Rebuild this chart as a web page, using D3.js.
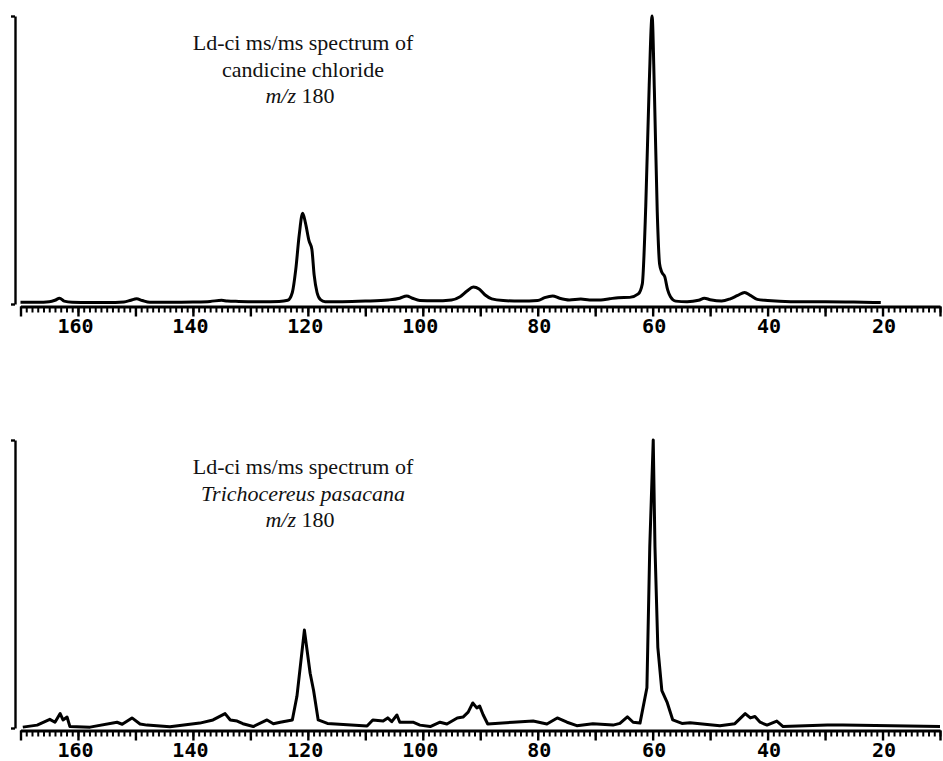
<!DOCTYPE html>
<html>
<head>
<meta charset="utf-8">
<script src="https://cdn.jsdelivr.net/npm/d3@7"></script>
<style>
  body { margin: 0; background: #fff; }
  svg { display: block; }
  .title { font-family: "Liberation Serif", "Times New Roman", serif; font-size: 22px; fill: #111; }
  .xaxis text { font-family: "DejaVu Sans Mono", monospace; font-weight: bold; font-size: 20px; fill: #000; }
</style>
</head>
<body>
<svg id="chart" width="943" height="761"></svg>
<script>
// tick labels on the m/z axis
const xLabels = [160, 140, 120, 100, 80, 60, 40, 20];

// candicine chloride standard, m/z and relative intensity (%)
const topMz = [170, 167, 165, 164, 163.2, 162.4, 161, 158, 155, 152, 150.8, 149.8, 148.8, 147.5,
  144, 140, 137, 135, 134, 132, 128, 125, 123.5, 122.7, 122.1, 121.5, 120.9, 120.4, 119.8,
  119.3, 118.9, 118.4, 117.8, 117, 114, 110, 106, 104, 102.8, 101.8, 100.5, 98, 95, 93.5,
  92.3, 91.2, 90.2, 89.2, 88, 86, 83, 80, 78.8, 77.4, 76.2, 74.5, 72.5, 71, 69, 67.5, 66,
  64, 62.5, 61.8, 61.2, 60.6, 60.1, 59.7, 59.2, 58.8, 58.4, 57.9, 57.4, 56.9, 56, 54,
  52, 51, 50, 48, 46.5, 45.2, 44, 43, 41.8, 40, 36, 30, 25, 20.3];
const topInt = [0.6, 0.6, 0.8, 1.3, 2.0, 1.0, 0.6, 0.5, 0.5, 0.7, 1.3, 1.8, 1.2, 0.6,
  0.6, 0.7, 0.9, 1.3, 1.0, 0.9, 0.8, 0.9, 1.3, 4, 12, 24, 31.5, 28, 22,
  19, 10, 4, 1.5, 0.8, 0.8, 1.0, 1.4, 2.0, 2.8, 2.0, 1.2, 1.1, 1.4, 2.5,
  4.5, 5.9, 5.2, 3.2, 1.8, 1.2, 1.0, 1.2, 2.2, 2.8, 2.0, 1.4, 1.7, 1.4, 1.4, 1.8, 2.2,
  2.3, 3.5, 7, 34, 76, 100, 74, 32, 14, 11, 9.5, 5, 2.5, 1, 0.8,
  1.3, 2, 1.5, 1, 1.8, 3, 4, 3, 1.6, 1.2, 0.8, 0.8, 0.7, 0.5];

// Trichocereus pasacana extract
const botMz = [169.6, 167.1, 164.9, 164.0, 163.1, 162.6, 161.9, 161.4, 157.9, 153.2, 152.3,
  150.6, 149.2, 148.0, 144.0, 138.8, 136.5, 134.4, 133.5, 132.3, 131.3, 129.5, 127.1, 126.0,
  124.8, 122.7, 121.9, 120.6, 119.6, 119.0, 118.2, 116.6, 109.7, 108.7, 106.9, 106.1, 105.4,
  104.5, 104.0, 101.7, 100.5, 98.7, 97.0, 95.8, 94.0, 93.0, 92.1, 91.3, 90.6, 90.1, 89.5,
  88.7, 84.3, 80.8, 78.4, 76.6, 74.9, 73.2, 70.4, 66.9, 65.7, 64.4, 63.4, 62.2, 61.0, 60.5,
  59.9, 59.6, 59.1, 58.4, 57.5, 56.5, 54.9, 53.5, 50.5, 48.3, 45.7, 43.9, 43.0, 42.2, 41.3,
  40.1, 38.4, 37.3, 29.6, 26.9, 10.0];
const botInt = [0.3, 1, 3, 2, 5, 2.8, 3.8, 0.5, 0.3, 2, 1.3,
  3.5, 1.4, 1, 0.4, 1.7, 2.8, 5, 2.8, 2.4, 1.5, 0.5, 2.8, 1.5,
  2, 2.8, 11, 34, 19, 13, 2.8, 1.6, 0.7, 2.8, 2.4, 3.5, 2.2,
  4.5, 2, 2, 1, 0.5, 2, 1.4, 3.5, 3.8, 5.5, 8.7, 7, 7.6, 4.6,
  1.4, 2, 2.4, 1.4, 3.5, 2, 0.8, 1.5, 1, 1.6, 3.9, 2, 1.7, 14, 63,
  100, 63, 28, 13, 9, 2.8, 1.6, 1.8, 1.2, 0.8, 1.5, 5, 3.5, 4, 2,
  1, 2.4, 0.5, 1, 1, 0.5];

const topTitle = [["Ld-ci ms/ms spectrum of", false], ["candicine chloride", false]];
const botTitle = [["Ld-ci ms/ms spectrum of", false], ["Trichocereus pasacana", true]];

const svg = d3.select("#chart");

const x = d3.scaleLinear().domain([170, 10]).range([20.5, 940]);

function drawPanel(mz, inten, title, top, curve) {
  const y = d3.scaleLinear().domain([0, 100]).range([top + 288, top]);
  const g = svg.append("g");

  // bracket-shaped intensity axis
  g.append("g")
    .attr("transform", "translate(15,0)")
    .call(d3.axisLeft(y).tickValues([0, 100]).tickSize(4).tickSizeOuter(0).tickFormat(""))
    .call(a => a.selectAll("path, line").attr("stroke", "#000").attr("stroke-width", 2.4));

  // m/z axis: minor ticks every unit, major every 10
  const axisY = y(0) + 2.5;
  g.append("g")
    .attr("transform", `translate(0,${axisY})`)
    .call(d3.axisBottom(x).tickValues(d3.range(10, 171)).tickSize(6).tickSizeOuter(0).tickFormat(""))
    .call(a => {
      a.select(".domain").attr("stroke", "#000").attr("stroke-width", 2.8);
      a.selectAll("line").attr("stroke", "#000").attr("stroke-width", 2);
    });
  g.append("g")
    .attr("class", "xaxis")
    .attr("transform", `translate(0,${axisY})`)
    .call(d3.axisBottom(x).tickValues(d3.range(10, 171, 10)).tickSize(10).tickSizeOuter(0).tickPadding(2)
      .tickFormat(d => xLabels.includes(d) ? d : ""))
    .call(a => {
      a.select(".domain").remove();
      a.selectAll("line").attr("stroke", "#000").attr("stroke-width", 2.4);
      a.selectAll("text").attr("dx", d => d >= 100 ? -3 : 1);
    });

  // spectrum trace
  const pts = mz.map((m, i) => [m, inten[i]]);
  g.append("path")
    .datum(pts)
    .attr("fill", "none")
    .attr("stroke", "#000")
    .attr("stroke-width", 3)
    .attr("stroke-linejoin", "round")
    .attr("d", d3.line().x(d => x(d[0])).y(d => y(d[1])).curve(curve));

  // caption
  const t = g.append("text").attr("class", "title").attr("text-anchor", "middle");
  title.forEach((ln, i) => {
    t.append("tspan").attr("x", 303).attr("y", top + 34 + i * 26.5)
      .style("font-style", ln[1] ? "italic" : "normal").text(ln[0]);
  });
  const last = t.append("tspan").attr("x", 300).attr("y", top + 34 + 2 * 26.5);
  last.append("tspan").style("font-style", "italic").text("m/z");
  last.append("tspan").text(" 180");
}

drawPanel(topMz, topInt, topTitle, 16, d3.curveMonotoneX);
drawPanel(botMz, botInt, botTitle, 440, d3.curveLinear);
</script>
</body>
</html>
